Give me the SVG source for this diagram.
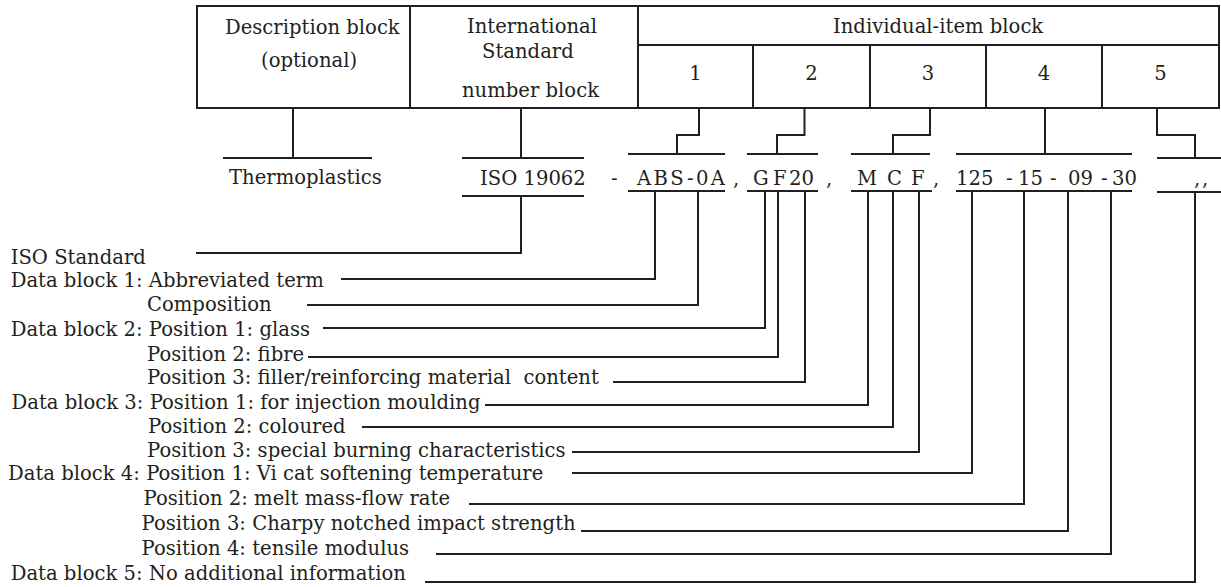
<svg xmlns="http://www.w3.org/2000/svg" width="1221" height="587" viewBox="0 0 1221 587">
<style>
text{font-family:"DejaVu Serif","Liberation Serif",serif;font-size:19.6px;fill:#231f20}
.c{text-anchor:middle}
.ln{fill:none;stroke:#231f20;stroke-width:2}
</style>
<rect width="1221" height="587" fill="#fff"/>
<g id="header-table">
<rect class="ln" x="197" y="6" width="1022" height="102"/>
<line class="ln" x1="410" y1="6" x2="410" y2="108"/>
<line class="ln" x1="638" y1="6" x2="638" y2="108"/>
<line class="ln" x1="638" y1="45" x2="1219" y2="45"/>
<line class="ln" x1="753" y1="45" x2="753" y2="108"/>
<line class="ln" x1="870" y1="45" x2="870" y2="108"/>
<line class="ln" x1="986" y1="45" x2="986" y2="108"/>
<line class="ln" x1="1102" y1="45" x2="1102" y2="108"/>
</g>
<g id="description-block"><text x="225" y="34">Description block</text><text x="261" y="67">(optional)</text></g>
<g id="standard-block"><text x="467" y="33">International</text><text x="482" y="58">Standard</text><text x="462" y="97">number block</text></g>
<g id="individual-block"><text x="833" y="33">Individual-item block</text>
<text class="c" x="695.5" y="80">1</text><text class="c" x="811.5" y="80">2</text><text class="c" x="928" y="80">3</text><text class="c" x="1044" y="80">4</text><text class="c" x="1160.5" y="80">5</text></g>
<g id="code-thermoplastics"><line class="ln" x1="223" y1="158" x2="372" y2="158"/><text x="229" y="184">Thermoplastics</text></g>
<g id="code-iso"><line class="ln" x1="462" y1="158" x2="584" y2="158"/><text x="480" y="185">ISO 19062</text><line class="ln" x1="462" y1="196" x2="584" y2="196"/><text x="611" y="185">-</text></g>
<g id="code-block1"><line class="ln" x1="628" y1="154" x2="725" y2="154"/><text x="637" y="185" letter-spacing="2.4">ABS-0A</text><line class="ln" x1="628" y1="191" x2="725" y2="191"/><text x="733" y="185">,</text></g>
<g id="code-block2"><line class="ln" x1="747" y1="154" x2="818" y2="154"/><text y="185"><tspan x="753">G</tspan><tspan x="773">F</tspan><tspan x="789">20</tspan></text><line class="ln" x1="747" y1="191" x2="818" y2="191"/><text x="826" y="185">,</text></g>
<g id="code-block3"><line class="ln" x1="851" y1="154" x2="930" y2="154"/><text y="185"><tspan x="857">M</tspan><tspan x="887">C</tspan><tspan x="911">F</tspan></text><line class="ln" x1="851" y1="191" x2="932" y2="191"/><text x="933" y="185">,</text></g>
<g id="code-block4"><line class="ln" x1="956" y1="154" x2="1132" y2="154"/><text y="185"><tspan x="956">125</tspan><tspan x="1006">-</tspan><tspan x="1018">15</tspan><tspan x="1050">-</tspan><tspan x="1068">09</tspan><tspan x="1101">-</tspan><tspan x="1112">30</tspan></text><line class="ln" x1="956" y1="191" x2="1132" y2="191"/></g>
<g id="code-block5"><line class="ln" x1="1157" y1="158" x2="1221" y2="158"/><text y="185"><tspan x="1194">,</tspan><tspan x="1202">,</tspan></text><line class="ln" x1="1157" y1="192" x2="1221" y2="192"/></g>
<g id="labels">
<text x="10.7" y="264">ISO Standard</text>
<text x="10.7" y="287">Data block 1: Abbreviated term</text>
<text x="147" y="311">Composition</text>
<text x="10.7" y="336">Data block 2: Position 1: glass</text>
<text x="147" y="361">Position 2: fibre</text>
<text x="147" y="384" xml:space="preserve">Position 3: filler/reinforcing material  content</text>
<text x="11.5" y="409">Data block 3: Position 1: for injection moulding</text>
<text x="148" y="433">Position 2: coloured</text>
<text x="147" y="457">Position 3: special burning characteristics</text>
<text x="8" y="480">Data block 4: Position 1: Vi cat softening temperature</text>
<text x="143.5" y="505">Position 2: melt mass-flow rate</text>
<text x="141.6" y="530">Position 3: Charpy notched impact strength</text>
<text x="141.6" y="555">Position 4: tensile modulus</text>
<text x="10.7" y="580">Data block 5: No additional information</text>
</g>
<g id="connectors" class="ln">
<path class="ln" d="M293,108V158"/>
<path class="ln" d="M521,108V158"/>
<path class="ln" d="M699,108V135H677V154"/>
<path class="ln" d="M804.5,108V135H777V154"/>
<path class="ln" d="M930,108V135H893V154"/>
<path class="ln" d="M1045,108V154"/>
<path class="ln" d="M1157,108V135H1195V158"/>
<path class="ln" d="M196,253H521V196"/>
<path class="ln" d="M341,279H655V191"/>
<path class="ln" d="M307,305H698V191"/>
<path class="ln" d="M323,328H765V191"/>
<path class="ln" d="M308,357H778V191"/>
<path class="ln" d="M613,382H805V191"/>
<path class="ln" d="M485,405H868V191"/>
<path class="ln" d="M362,427H893V191"/>
<path class="ln" d="M572,452H919V191"/>
<path class="ln" d="M572,473H972V191"/>
<path class="ln" d="M469,504H1024V191"/>
<path class="ln" d="M581,531H1068V191"/>
<path class="ln" d="M436,554H1111V191"/>
<path class="ln" d="M425,582H1195V192"/>
</g>
</svg>
